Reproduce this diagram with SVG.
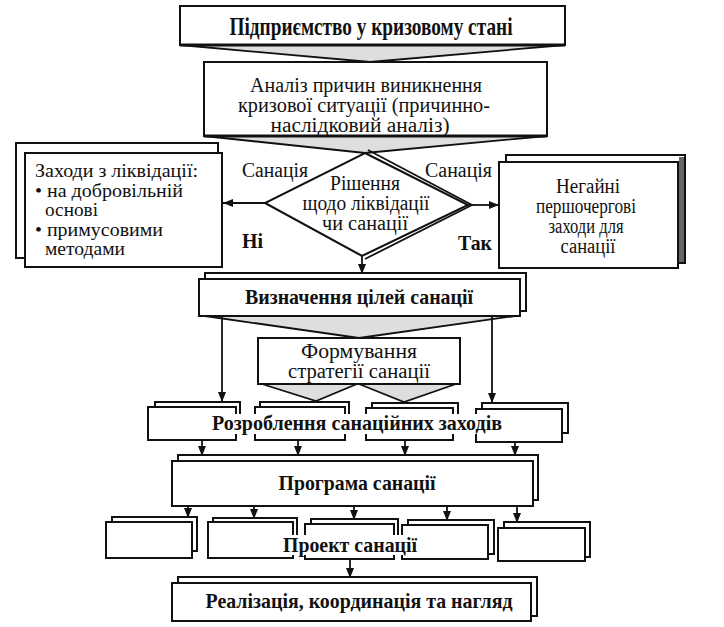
<svg xmlns="http://www.w3.org/2000/svg" width="724" height="627" viewBox="0 0 724 627">
<style>
.box{fill:#fff;stroke:#111;stroke-width:2}
.t{font-family:"Liberation Serif","Times New Roman",serif;fill:#111;font-size:20px}
.b{font-weight:bold;font-size:21px}
.m{text-anchor:middle}
.c{stroke:#111;stroke-width:1.8;fill:none}
.f{fill:#dedede;stroke:#111;stroke-width:1.8;stroke-linejoin:miter}
.gap{fill:#fff;stroke:none}
</style>
<defs>
<marker id="ah" markerWidth="10" markerHeight="8" refX="10" refY="4" orient="auto" markerUnits="userSpaceOnUse">
<path d="M0,0 L10,4 L0,8 z" fill="#111"/>
</marker>
</defs>
<rect width="724" height="627" fill="#fff"/>

<g id="connectors">
<polygon class="f" points="180,45 370,62 565,45"/>
<polygon class="f" points="204,136 365,153 547,136"/>
<line class="c" x1="265" y1="203" x2="223" y2="203" marker-end="url(#ah)"/>
<line class="c" x1="468" y1="205" x2="499" y2="205" marker-end="url(#ah)"/>
<line class="c" x1="362" y1="256" x2="362" y2="274" marker-end="url(#ah)"/>
<polygon class="f" points="205,316 359,338 515,316"/>
<line class="c" x1="222" y1="316" x2="222" y2="402" marker-end="url(#ah)"/>
<line class="c" x1="492" y1="316" x2="492" y2="403" marker-end="url(#ah)"/>
<polygon class="f" points="262,384 316,401 357,384"/>
<polygon class="f" points="359,384 404,402 456,384"/>
<line class="c" x1="202" y1="440" x2="202" y2="456" marker-end="url(#ah)"/>
<line class="c" x1="298" y1="440" x2="298" y2="456" marker-end="url(#ah)"/>
<line class="c" x1="405" y1="440" x2="405" y2="456" marker-end="url(#ah)"/>
<line class="c" x1="515" y1="442" x2="515" y2="456" marker-end="url(#ah)"/>
<line class="c" x1="188" y1="506" x2="188" y2="518" marker-end="url(#ah)"/>
<line class="c" x1="254" y1="506" x2="254" y2="519" marker-end="url(#ah)"/>
<line class="c" x1="354" y1="506" x2="354" y2="520" marker-end="url(#ah)"/>
<line class="c" x1="447" y1="506" x2="447" y2="521" marker-end="url(#ah)"/>
<line class="c" x1="517" y1="506" x2="517" y2="523" marker-end="url(#ah)"/>
<line class="c" x1="350" y1="559" x2="350" y2="578" marker-end="url(#ah)"/>
</g>

<g id="n-start">
<rect class="box" x="180" y="6" width="385" height="39"/>
<line x1="180" y1="45" x2="565" y2="45" stroke="#111" stroke-width="3"/>
<text class="t b m" x="371" y="35" style="font-size:25px" textLength="283" lengthAdjust="spacingAndGlyphs">Підприємство у кризовому стані</text>
</g>

<g id="n-analysis">
<rect class="box" x="204" y="62" width="343" height="74"/>
<line x1="204" y1="136" x2="547" y2="136" stroke="#111" stroke-width="3"/>
<text class="t m" x="366" y="91.5" textLength="232" lengthAdjust="spacingAndGlyphs">Аналіз причин виникнення</text>
<text class="t m" x="364" y="111.5" textLength="252" lengthAdjust="spacingAndGlyphs">кризової ситуації (причинно-</text>
<text class="t m" x="360" y="131.5" textLength="179" lengthAdjust="spacingAndGlyphs">наслідковий аналіз)</text>
</g>

<g id="n-decision">
<polygon class="box" points="365,153 468,205 362,256 265,203"/>
<polyline class="c" points="368,150 472,205 365,259"/>
<text class="t m" x="365" y="190" textLength="70" lengthAdjust="spacingAndGlyphs">Рішення</text>
<text class="t m" x="366" y="210" textLength="127" lengthAdjust="spacingAndGlyphs">щодо ліквідації</text>
<text class="t m" x="365" y="230" textLength="86" lengthAdjust="spacingAndGlyphs">чи санації</text>
</g>

<g id="labels">
<text class="t" x="242" y="177" textLength="66" lengthAdjust="spacingAndGlyphs">Санація</text>
<text class="t b" x="242" y="248" textLength="21" lengthAdjust="spacingAndGlyphs">Ні</text>
<text class="t" x="425" y="177" textLength="67" lengthAdjust="spacingAndGlyphs">Санація</text>
<text class="t b" x="458" y="250" textLength="34" lengthAdjust="spacingAndGlyphs">Так</text>
</g>

<g id="n-liquidation">
<rect class="box" x="16" y="143" width="202" height="115"/>
<rect class="box" x="25" y="153" width="197" height="114"/>
<text class="t" x="35" y="177" style="font-size:19px" textLength="163" lengthAdjust="spacingAndGlyphs">Заходи з ліквідації:</text>
<text class="t" x="35" y="196.5" style="font-size:19px" textLength="148" lengthAdjust="spacingAndGlyphs">• на добровільній</text>
<text class="t" x="45" y="216" style="font-size:19px" textLength="53" lengthAdjust="spacingAndGlyphs">основі</text>
<text class="t" x="35" y="235.5" style="font-size:19px" textLength="128" lengthAdjust="spacingAndGlyphs">• примусовими</text>
<text class="t" x="45" y="255" style="font-size:19px" textLength="80" lengthAdjust="spacingAndGlyphs">методами</text>
</g>

<g id="n-urgent">
<rect class="box" x="506" y="155" width="179" height="108"/>
<rect x="679" y="157" width="5" height="105" fill="#666"/>
<rect class="box" x="499" y="162" width="179" height="106"/>
<text class="t m" x="588" y="193" textLength="64" lengthAdjust="spacingAndGlyphs">Негайні</text>
<text class="t m" x="586" y="213" textLength="100" lengthAdjust="spacingAndGlyphs">першочергові</text>
<text class="t m" x="586" y="233" textLength="75" lengthAdjust="spacingAndGlyphs">заходи для</text>
<text class="t m" x="588" y="253" textLength="55" lengthAdjust="spacingAndGlyphs">санації</text>
</g>

<g id="n-goals">
<rect class="box" x="205" y="273" width="321" height="38"/>
<rect class="box" x="199" y="279" width="321" height="37"/>
<text class="t b m" x="359" y="304" textLength="228" lengthAdjust="spacingAndGlyphs">Визначення цілей санації</text>
</g>

<g id="n-strategy">
<rect class="box" x="258" y="338" width="202" height="46"/>
<text class="t m" x="359" y="358" textLength="116" lengthAdjust="spacingAndGlyphs">Формування</text>
<text class="t m" x="359" y="378" textLength="142" lengthAdjust="spacingAndGlyphs">стратегії санації</text>
</g>

<g id="n-measures">
<rect class="box" x="155" y="402" width="85" height="30"/>
<rect class="box" x="148" y="407" width="88" height="33"/>
<rect class="box" x="260" y="402" width="89" height="30"/>
<rect class="box" x="255" y="407" width="90" height="33"/>
<rect class="box" x="372" y="403" width="86" height="30"/>
<rect class="box" x="366" y="408" width="87" height="32"/>
<rect class="box" x="482" y="403" width="86" height="30"/>
<rect class="box" x="476" y="409" width="86" height="33"/>
<rect class="gap" x="210" y="414" width="294" height="20"/>
<text class="t b m" x="357" y="430" textLength="290" lengthAdjust="spacingAndGlyphs">Розроблення санаційних заходів</text>
</g>

<g id="n-program">
<rect class="box" x="178" y="455" width="360" height="45"/>
<rect class="box" x="172" y="461" width="361" height="45"/>
<text class="t b m" x="357" y="490" textLength="157" lengthAdjust="spacingAndGlyphs">Програма санації</text>
</g>

<g id="n-project">
<rect class="box" x="112" y="517" width="85" height="34"/>
<rect class="box" x="106" y="522" width="86" height="36"/>
<rect class="box" x="213" y="518" width="84" height="34"/>
<rect class="box" x="208" y="522" width="85" height="36"/>
<rect class="box" x="311" y="519" width="87" height="34"/>
<rect class="box" x="305" y="524" width="89" height="35"/>
<rect class="box" x="408" y="520" width="86" height="34"/>
<rect class="box" x="402" y="525" width="86" height="34"/>
<rect class="box" x="504" y="522" width="86" height="35"/>
<rect class="box" x="498" y="528" width="87" height="33"/>
<rect class="gap" x="281" y="535" width="138" height="20"/>
<text class="t b m" x="350" y="552" textLength="134" lengthAdjust="spacingAndGlyphs">Проект санації</text>
</g>

<g id="n-implementation">
<rect class="box" x="178" y="577" width="359" height="39"/>
<rect class="box" x="172" y="583" width="359" height="38"/>
<text class="t b m" x="359" y="608" textLength="307" lengthAdjust="spacingAndGlyphs">Реалізація, координація та нагляд</text>
</g>
</svg>
